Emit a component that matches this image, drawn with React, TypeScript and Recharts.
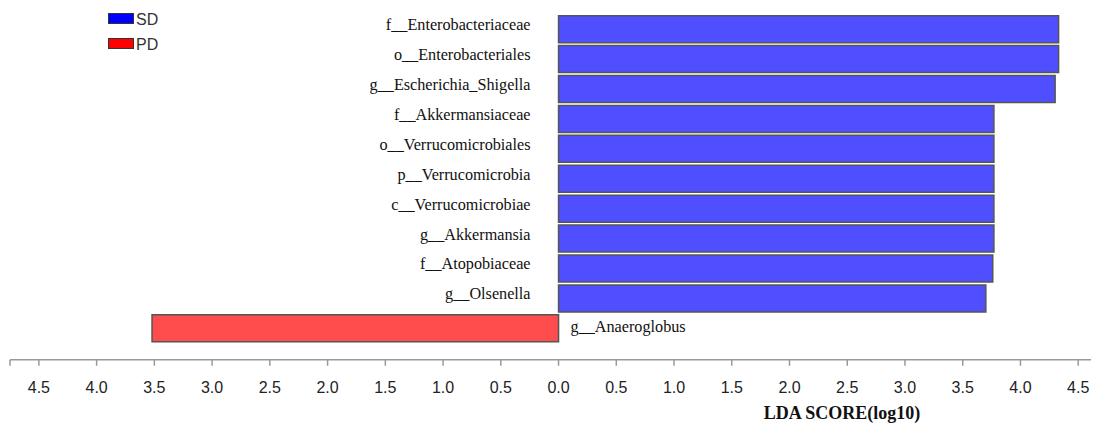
import { BarChart, Bar, XAxis, YAxis, Cell, Legend, LabelList } from 'recharts'

// LEfSe result: taxa, LDA scores and the group each one is enriched in
const taxa = [
  'f__Enterobacteriaceae',
  'o__Enterobacteriales',
  'g__Escherichia_Shigella',
  'f__Akkermansiaceae',
  'o__Verrucomicrobiales',
  'p__Verrucomicrobia',
  'c__Verrucomicrobiae',
  'g__Akkermansia',
  'f__Atopobiaceae',
  'g__Olsenella',
  'g__Anaeroglobus',
]
const ldaScores = [4.33, 4.33, 4.3, 3.77, 3.77, 3.77, 3.77, 3.77, 3.76, 3.7, 3.52]
const enrichedIn = ['SD', 'SD', 'SD', 'SD', 'SD', 'SD', 'SD', 'SD', 'SD', 'SD', 'PD']

const groups = ['SD', 'PD']
const legendColors = ['#0000FF', '#FF0000']
const barColors = ['#4F4FFF', '#FF4C4C']

const xTicks = [-4.75, -4.5, -4, -3.5, -3, -2.5, -2, -1.5, -1, -0.5, 0, 0.5, 1, 1.5, 2, 2.5, 3, 3.5, 4, 4.5]

// PD bars point left of zero, SD bars to the right
const data = taxa.map((name, i) => ({
  name,
  group: enrichedIn[i],
  lda: enrichedIn[i] === 'PD' ? -ldaScores[i] : ldaScores[i],
}))

const serif = '"Liberation Serif", "Times New Roman", serif'
const sans = '"Liberation Sans", Arial, sans-serif'

function TaxonLabel(props: any) {
  const { x, y, width, height, value, index } = props
  const left = Math.min(x, x + width)
  const right = Math.max(x, x + width)
  const cy = y + height / 2
  const name = taxa[index]
  if (value >= 0) {
    return (
      <text x={left - 28} y={cy + 1} textAnchor="end" fontFamily={serif} fontSize={16.2} fill="#111">
        {name}
      </text>
    )
  }
  return (
    <text x={right + 12} y={cy + 4} textAnchor="start" fontFamily={serif} fontSize={16.2} fill="#111">
      {name}
    </text>
  )
}

function GroupLegend() {
  return (
    <div>
      {groups.map((g, i) => (
        <div key={g} style={{ display: 'flex', alignItems: 'center', height: 25 }}>
          <div
            style={{
              width: 26,
              height: 11,
              boxSizing: 'border-box',
              background: legendColors[i],
              border: '1.5px solid #333',
              marginTop: -3,
            }}
          />
          <span style={{ fontFamily: sans, fontSize: 16, color: '#333', marginLeft: 2, lineHeight: '16px' }}>{g}</span>
        </div>
      ))}
    </div>
  )
}

function AxisTitle(props: any) {
  const { viewBox } = props
  return (
    <text
      x={viewBox.x + viewBox.width - 257}
      y={viewBox.y + 59}
      textAnchor="middle"
      fontFamily={serif}
      fontWeight="bold"
      fontSize={18}
      fill="#111"
    >
      LDA SCORE(log10)
    </text>
  )
}

export default function App() {
  return (
    <BarChart
      width={1091}
      height={419}
      data={data}
      layout="vertical"
      margin={{ top: 6.25, right: 0, left: 2, bottom: 0 }}
      barCategoryGap={1.45}
    >
      <XAxis
        type="number"
        domain={[-4.75, 4.68]}
        allowDataOverflow
        ticks={xTicks}
        interval={0}
        tickFormatter={(v: number) => (v === -4.75 ? '' : Math.abs(v).toFixed(1))}
        height={67.25}
        tickSize={6}
        tickMargin={16}
        stroke="#999"
        strokeWidth={1.5}
        tick={{ fill: '#222', fontSize: 16, fontFamily: sans }}
        label={<AxisTitle />}
      />
      <YAxis type="category" dataKey="name" hide padding={{ top: 0, bottom: 16.5 }} />
      {/* centered + middle keeps the legend from eating plot space; placed by wrapperStyle */}
      <Legend
        layout="horizontal"
        align="center"
        verticalAlign="middle"
        content={<GroupLegend />}
        wrapperStyle={{ position: 'absolute', left: 100, top: -1, width: 'auto' }}
      />
      <Bar dataKey="lda" stroke="#555" strokeWidth={1.5} isAnimationActive={false}>
        {data.map((d) => (
          <Cell key={d.name} fill={barColors[groups.indexOf(d.group)]} />
        ))}
        <LabelList dataKey="lda" content={<TaxonLabel />} />
      </Bar>
    </BarChart>
  )
}
